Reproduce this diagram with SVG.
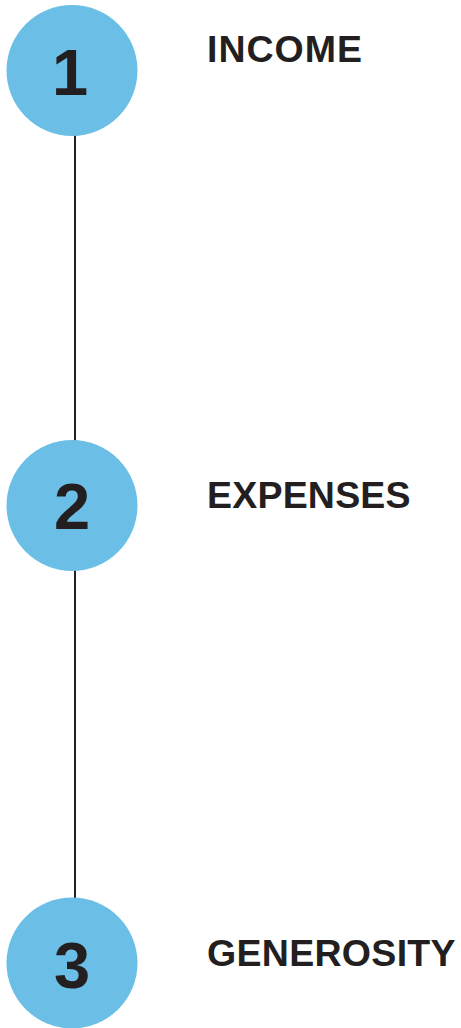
<svg xmlns="http://www.w3.org/2000/svg" width="461" height="1028" viewBox="0 0 461 1028">
<style>
.c{fill:#6BBFE6}
.n{font-family:"Liberation Sans",Arial,sans-serif;font-weight:bold;font-size:65px;fill:#231F20;text-anchor:middle}
.t{font-family:"Liberation Sans",Arial,sans-serif;font-weight:bold;font-size:37.5px;fill:#231F20}
.l{stroke:#231F20;stroke-width:2;fill:none}
</style>
<rect width="461" height="1028" fill="#fff"/>
<g id="connectors">
<line class="l" x1="75" y1="134" x2="75" y2="442"/>
<line class="l" x1="75" y1="568" x2="75" y2="900"/>
</g>
<g id="node1">
<circle class="c" cx="72" cy="70.5" r="65.5"/>
<text class="n" x="70" y="95">1</text>
<text class="t" x="207" y="62" letter-spacing="1">INCOME</text>
</g>
<g id="node2">
<circle class="c" cx="72" cy="505.5" r="65.5"/>
<text class="n" x="72" y="529">2</text>
<text class="t" x="207" y="508" letter-spacing="0.2">EXPENSES</text>
</g>
<g id="node3">
<circle class="c" cx="72" cy="963" r="65.5"/>
<text class="n" x="72" y="988">3</text>
<text class="t" x="207" y="966" letter-spacing="0.3">GENEROSITY</text>
</g>
</svg>
